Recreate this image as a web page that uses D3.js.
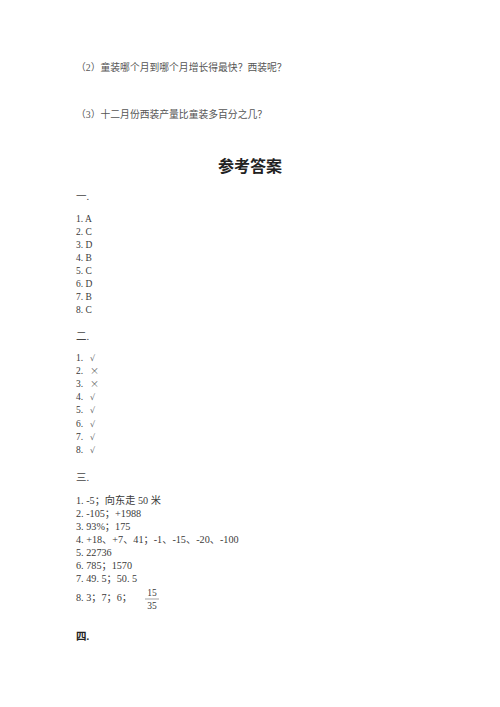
<!DOCTYPE html>
<html>
<head>
<meta charset="utf-8">
<script src="https://cdn.jsdelivr.net/npm/d3@7"></script>
<style>
  body { margin: 0; background: #fff; }
  text { font-family: "Liberation Serif", "Noto Sans CJK SC", serif; fill: #3a3a3a; }
</style>
</head>
<body>
<div class="page"></div>
<script>
var questions = ["（2）童装哪个月到哪个月增长得最快？西装呢？", "（3）十二月份西装产量比童装多百分之几？"];
var title = "参考答案";
var headers = ["一.", "二.", "三.", "四."];
var answers1 = ["1. A", "2. C", "3. D", "4. B", "5. C", "6. D", "7. B", "8. C"];
var marks2 = ["√", "×", "×", "√", "√", "√", "√", "√"];
var answers3 = ["1. -5；向东走 50 米", "2. -105；+1988", "3. 93%；175", "4. +18、+7、41；-1、-15、-20、-100",
    "5. 22736", "6. 785；1570", "7. 49. 5；50. 5", "8. 3；7；6；"];
var fraction = ["15", "35"];

var width = 500, height = 707;
var left = 76;

var svg = d3.select('.page')
    .append("svg")
    .attr("width", width)
    .attr("height", height)

// question lines
var yq = d3.scaleLinear().domain([0, 1]).range([67, 114]);
svg.selectAll("text.q")
    .data(questions)
    .enter()
    .append("text")
    .attr("class", "q")
    .attr("x", left)
    .attr("y", function (d, i) { return yq(i) + 3.5 })
    .style("font-size", "9.8px")
    .style("fill", "#555")
    .text(function (d) { return d })

svg.append("text")
    .attr("x", width / 2)
    .attr("y", 172)
    .attr("text-anchor", "middle")
    .style("font-size", "16px")
    .style("font-weight", "bold")
    .style("fill", "#222")
    .text(title)

var headerY = [196, 336, 477, 636];
svg.selectAll("text.h")
    .data(headers)
    .enter()
    .append("text")
    .attr("class", "h")
    .attr("x", left)
    .attr("y", function (d, i) { return headerY[i] + 4 })
    .style("font-size", "10.5px")
    .style("font-weight", function (d, i) { return i == 3 ? "bold" : "normal" })
    .style("fill", function (d, i) { return i == 3 ? "#222" : "#444" })
    .text(function (d) { return d })

function list(data, y0, step, size) {
    var y = d3.scaleLinear().domain([0, 1]).range([y0, y0 + step]);
    return svg.append("g")
        .selectAll("text")
        .data(data)
        .enter()
        .append("text")
        .attr("x", left)
        .attr("y", function (d, i) {
            var yy = y(i);
            if (data === answers3 && i == 7) yy += 6;
            return yy + 3.5
        })
        .style("font-size", size + "px")
        .text(function (d) { return d })
}

list(answers1, 218, 13.05, 9.5);

// 二. numbers plus check / cross marks
var y2 = d3.scaleLinear().domain([0, 1]).range([357, 370.2]);
var g2 = svg.append("g")
    .selectAll("text")
    .data(marks2)
    .enter()
    .append("text")
    .attr("x", left)
    .attr("y", function (d, i) { return y2(i) + 3.5 })
    .style("font-size", "9.5px")
g2.append("tspan").text(function (d, i) { return (i + 1) + ". " })
g2.append("tspan")
    .attr("x", left + 14)
    .style("font-family", function (d) { return d == "×" ? "'Noto Sans CJK SC'" : "'DejaVu Serif'" })
    .style("font-size", function (d) { return d == "×" ? "9px" : "8px" })
    .style("fill", "#666")
    .text(function (d) { return d })

list(answers3, 500, 13.1, 10.2);

// fraction for 8.
var fx = 152, fy = 599;
svg.append("text")
    .attr("x", fx)
    .attr("y", fy - 3)
    .attr("text-anchor", "middle")
    .style("font-size", "9.5px")
    .text(fraction[0])
svg.append("line")
    .attr("x1", fx - 7)
    .attr("x2", fx + 7)
    .attr("y1", fy)
    .attr("y2", fy)
    .attr("stroke", "#666")
    .attr("stroke-width", 0.6)
svg.append("text")
    .attr("x", fx)
    .attr("y", fy + 10)
    .attr("text-anchor", "middle")
    .style("font-size", "9.5px")
    .text(fraction[1])
</script>
</body>
</html>
